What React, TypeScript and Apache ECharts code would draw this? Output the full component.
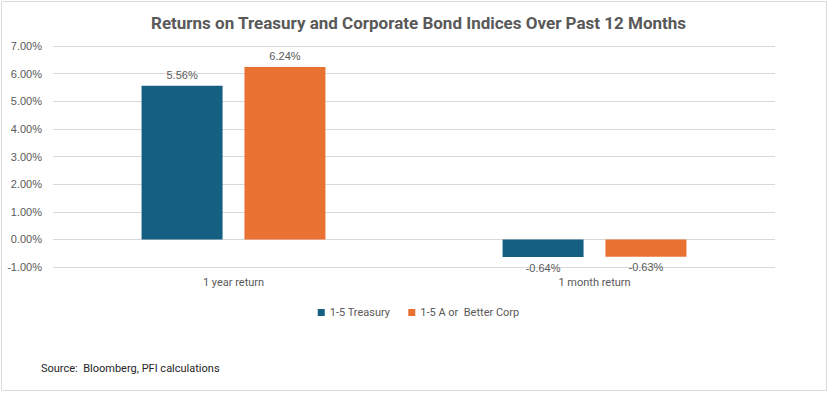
import React, { useEffect, useRef } from "react";
import * as echarts from "echarts";

const categories = ["1 year return", "1 month return"];
const treasury = [5.56, -0.64];
const corp = [6.24, -0.63];
const seriesNames = ["1-5 Treasury", "1-5 A or  Better Corp"];
const titleText = "Returns on Treasury and Corporate Bond Indices Over Past 12 Months";
const sourceText = "Source:  Bloomberg, PFI calculations";

const NARROW = "'Liberation Sans Narrow', 'Roboto', sans-serif";

export default function App() {
  const ref = useRef<HTMLDivElement>(null);
  useEffect(() => {
    document.body.style.margin = "0";
    const chart = echarts.init(ref.current!, null, { renderer: "svg" });
    const label = (pos: string) => ({
      show: true,
      position: pos,
      distance: 5,
      formatter: (p: any) => p.value.toFixed(2) + "%",
      color: "#595959",
      fontFamily: "'Liberation Sans', Arial, sans-serif",
      fontSize: 11,
    });
    chart.setOption({
      animation: false,
      backgroundColor: "#ffffff",
      title: {
        text: titleText,
        left: "center",
        top: 9,
        textStyle: { fontFamily: NARROW, fontWeight: "bold", fontSize: 17, color: "#595959" },
      },
      grid: { left: 53, right: 62, top: 46, bottom: 132, containLabel: false },
      legend: {
        bottom: 76,
        left: "center",
        itemWidth: 7,
        itemHeight: 7,
        itemGap: 18,
        icon: "rect",
        textStyle: { fontFamily: NARROW, fontSize: 11, color: "#595959" },
        data: seriesNames,
      },
      xAxis: {
        type: "category",
        data: categories,
        axisLine: { show: false, onZero: false },
        axisTick: { show: false },
        axisLabel: { margin: 10, fontFamily: NARROW, fontSize: 11, color: "#595959" },
      },
      yAxis: {
        type: "value",
        min: -1,
        max: 7,
        interval: 1,
        axisLine: { show: false },
        axisTick: { show: false },
        splitLine: { lineStyle: { color: "#d9d9d9", width: 1 } },
        axisLabel: {
          margin: 11,
          formatter: (v: number) => v.toFixed(2) + "%",
          fontFamily: "'Liberation Sans', Arial, sans-serif",
          fontSize: 11,
          color: "#595959",
        },
      },
      series: [
        {
          name: seriesNames[0],
          type: "bar",
          data: treasury.map((v) => ({ value: v, label: label(v >= 0 ? "top" : "bottom") })),
          itemStyle: { color: "#156082" },
          barWidth: 81,
          barGap: "27%",
        },
        {
          name: seriesNames[1],
          type: "bar",
          data: corp.map((v) => ({ value: v, label: label(v >= 0 ? "top" : "bottom") })),
          itemStyle: { color: "#E97132" },
          barWidth: 81,
          barGap: "27%",
        },
      ],
      graphic: [
        {
          type: "rect",
          shape: { x: 1.5, y: 1.5, width: 825, height: 389 },
          style: { fill: "none", stroke: "#d9d9d9", lineWidth: 1 },
          silent: true,
        },
        {
          type: "text",
          left: 41,
          top: 363,
          style: { text: sourceText, fontFamily: NARROW, fontSize: 11, fill: "#262626" },
        },
      ],
    });
    return () => chart.dispose();
  }, []);
  return <div ref={ref} style={{ width: 837, height: 399 }} />;
}
